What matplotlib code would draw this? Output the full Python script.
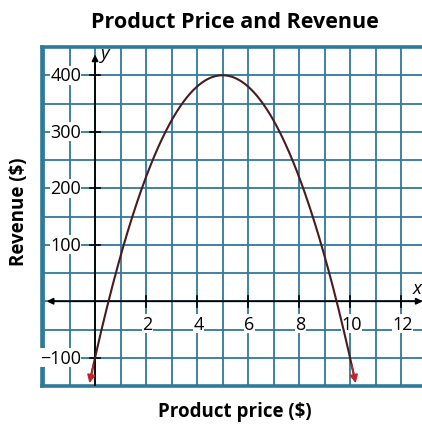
import numpy as np
import matplotlib
matplotlib.use("Agg")
import matplotlib.pyplot as plt

# Data
title = "Product Price and Revenue"
x_label = "Product price ($)"
y_label = "Revenue ($)"
x_tick_values = [2, 4, 6, 8, 10, 12]
y_tick_values = [-100, 100, 200, 300, 400]
# parabola R(x) = a*(x - h)^2 + k
vertex_x = 5.0
vertex_y = 400.0
coef_a = -20.0
curve_x_range = [-0.22, 10.22]

xlim = (-2.08, 12.9)
ylim = (-150, 450)

grid_color = "#2f7a99"
curve_color = "#4a1a1e"
arrow_red = "#c4222c"

plt.rcParams['font.family'] = ['Open Sans', 'DejaVu Sans']

fig = plt.figure(figsize=(4.22, 4.27), dpi=100)
ax = fig.add_axes([42/422, 40/427, 382/422, 339/427])
ax.set_xlim(*xlim)
ax.set_ylim(*ylim)

# grid
for gx in np.arange(-2, 13, 1):
    ax.axvline(gx, color=grid_color, lw=1.3, zorder=1)
for gy in np.arange(-150, 451, 50):
    ax.axhline(gy, color=grid_color, lw=1.3, zorder=1)

for s in ['left', 'top', 'bottom']:
    ax.spines[s].set_color(grid_color)
    ax.spines[s].set_linewidth(2.6)
ax.spines['right'].set_visible(False)
ax.set_xticks([])
ax.set_yticks([])

# axes with arrows
ax.annotate("", xy=(12.85, 0), xytext=(-1.9, 0),
            arrowprops=dict(arrowstyle="<|-|>", color="black", lw=1.3,
                            mutation_scale=9, shrinkA=0, shrinkB=0), zorder=3)
ax.plot([0, 0], [-150, 420], color="black", lw=1.3, zorder=3)
ax.annotate("", xy=(0, 437), xytext=(0, 410),
            arrowprops=dict(arrowstyle="-|>", color="black", lw=1.3,
                            mutation_scale=9, shrinkA=0, shrinkB=0), zorder=3)
ax.text(0.22, 440, "y", fontsize=13.5, style='italic', ha='left', va='center', zorder=4)
ax.text(12.62, 24, "x", fontsize=13.5, style='italic', ha='center', va='center', zorder=4)

# tick marks and labels
for v in x_tick_values:
    ax.plot([v, v], [-10, 10], color="black", lw=1.2, zorder=3)
    ax.text(v + 0.05, -40, str(v), fontsize=13, ha='center', va='center', zorder=4,
            bbox=dict(facecolor='white', edgecolor='none', pad=0.2))
for v in y_tick_values:
    ax.plot([-0.2, 0.2], [v, v], color="black", lw=1.2, zorder=3)
    lab = str(v).replace('-', '\u2212')
    ax.text(-0.55, v, lab, fontsize=13, ha='right', va='center', zorder=4,
            bbox=dict(facecolor='white', edgecolor='none', pad=0.2))

# curve
xs = np.linspace(curve_x_range[0], curve_x_range[1], 400)
ys = coef_a * (xs - vertex_x) ** 2 + vertex_y
ax.plot(xs[3:-3], ys[3:-3], color=curve_color, lw=1.5, zorder=5, clip_on=False)
for i0, i1 in [(6, 0), (-7, -1)]:
    ax.annotate("", xy=(xs[i1], ys[i1]), xytext=(xs[i0], ys[i0]),
                arrowprops=dict(arrowstyle="-|>", color=arrow_red, lw=1.2,
                                mutation_scale=12, shrinkA=0, shrinkB=0),
                zorder=6, annotation_clip=False)

fig.text(235 / 422, 1 - 22 / 427, title, fontsize=15.5, fontweight='bold',
         ha='center', va='center')
fig.text(235 / 422, 1 - 412 / 427, x_label, fontsize=13.5, fontweight='bold',
         ha='center', va='center')
fig.text(19 / 422, 1 - 212 / 427, y_label, fontsize=13.5, fontweight='bold',
         ha='center', va='center', rotation=90)

fig.savefig("out.png", dpi=100)
